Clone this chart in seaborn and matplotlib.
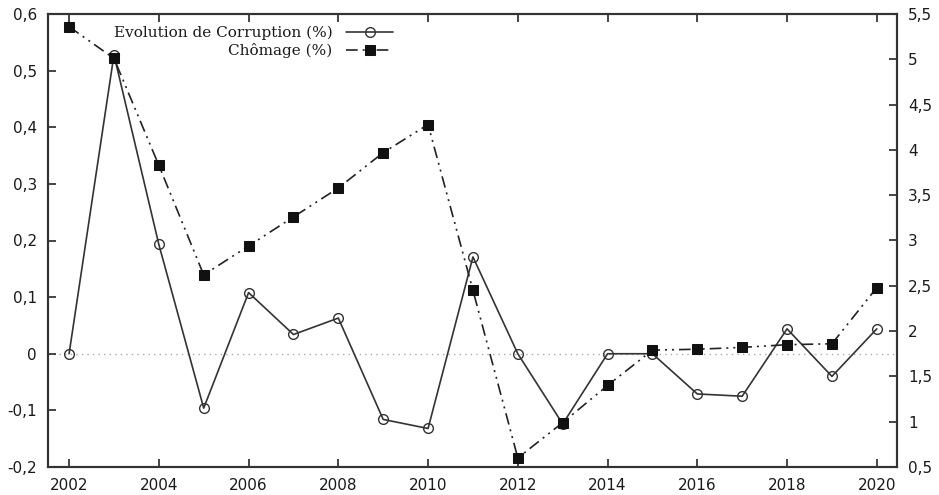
import matplotlib
matplotlib.use("Agg")
import matplotlib.pyplot as plt
import matplotlib.ticker as mticker
import seaborn as sns
import pandas as pd

years = list(range(2002, 2021))
corruption = [0.0, 0.528, 0.193, -0.096, 0.108, 0.034, 0.063, -0.116, -0.132, 0.171,
              0.0, -0.124, 0.0, 0.0, -0.071, -0.075, 0.044, -0.040, 0.044]
chomage = [5.36, 5.01, 3.83, 2.62, 2.94, 3.26, 3.58, 3.97, 4.28, 2.45,
           0.60, 0.99, 1.40, 1.79, 1.80, 1.82, 1.85, 1.86, 2.48]
left_ticks = [-0.2, -0.1, 0, 0.1, 0.2, 0.3, 0.4, 0.5, 0.6]
right_ticks = [0.5, 1, 1.5, 2, 2.5, 3, 3.5, 4, 4.5, 5, 5.5]
year_ticks = list(range(2002, 2021, 2))

df = pd.DataFrame({"year": years, "corruption": corruption, "chomage": chomage})

sns.set_style("ticks")
plt.rcParams["font.family"] = ["DejaVu Sans"]

fig = plt.figure(figsize=(9.39, 4.95), dpi=100)
ax = fig.add_axes([48 / 939, 1 - 467 / 495, (897 - 48) / 939, (467 - 14) / 495])
ax2 = ax.twinx()

ink = "#1a1a1a"

ax.axhline(0, color="#aaaaaa", lw=1.0, ls=(0, (1, 3)), zorder=0)

sns.lineplot(data=df, x="year", y="corruption", ax=ax, color="#333333", lw=1.2,
             marker="o", markersize=7, markerfacecolor="none",
             markeredgecolor="#333333", markeredgewidth=1.0,
             label="Evolution de Corruption (%)", legend=False)
sns.lineplot(data=df, x="year", y="chomage", ax=ax2, color="#222222", lw=1.2,
             marker="s", markersize=7.5, markerfacecolor="#111111",
             markeredgecolor="#111111", label="Chômage (%)", legend=False)
ax2.lines[0].set_dashes([7, 3, 1.2, 3, 1.2, 3])

ax.set_xlim(2001.53, 2020.45)
ax.set_ylim(-0.2, 0.6)
ax2.set_ylim(0.5, 5.5)

ax.set_xticks(year_ticks)
ax.set_yticks(left_ticks)
ax2.set_yticks(right_ticks)

comma = mticker.FuncFormatter(lambda v, p: f"{v:g}".replace(".", ","))
ax.yaxis.set_major_formatter(comma)
ax2.yaxis.set_major_formatter(comma)

ax.set_xlabel("")
ax.set_ylabel("")
ax2.set_ylabel("")

ax.tick_params(axis="x", direction="in", top=True, length=6, width=1.2,
               labelsize=11, labelcolor=ink, pad=8)
ax.tick_params(axis="y", direction="in", length=6, width=1.2,
               labelsize=11, labelcolor=ink, pad=8)
ax2.tick_params(axis="y", direction="in", length=6, width=1.2,
                labelsize=11, labelcolor=ink, pad=8)

for a in (ax, ax2):
    for s in a.spines.values():
        s.set_color("#333333")
        s.set_linewidth(1.5)

h1, l1 = ax.get_legend_handles_labels()
h2, l2 = ax2.get_legend_handles_labels()
leg = ax.legend(h1 + h2, l1 + l2, loc="upper left", bbox_to_anchor=(0.061, 1.005),
                markerfirst=False, frameon=False, handlelength=3.1,
                labelspacing=0.2, handletextpad=0.9,
                prop={"family": "DejaVu Serif", "size": 11})
for t in leg.get_texts():
    t.set_ha("right")
    t.set_color(ink)
leg._legend_box.align = "right"

fig.savefig("out.png", dpi=100)
